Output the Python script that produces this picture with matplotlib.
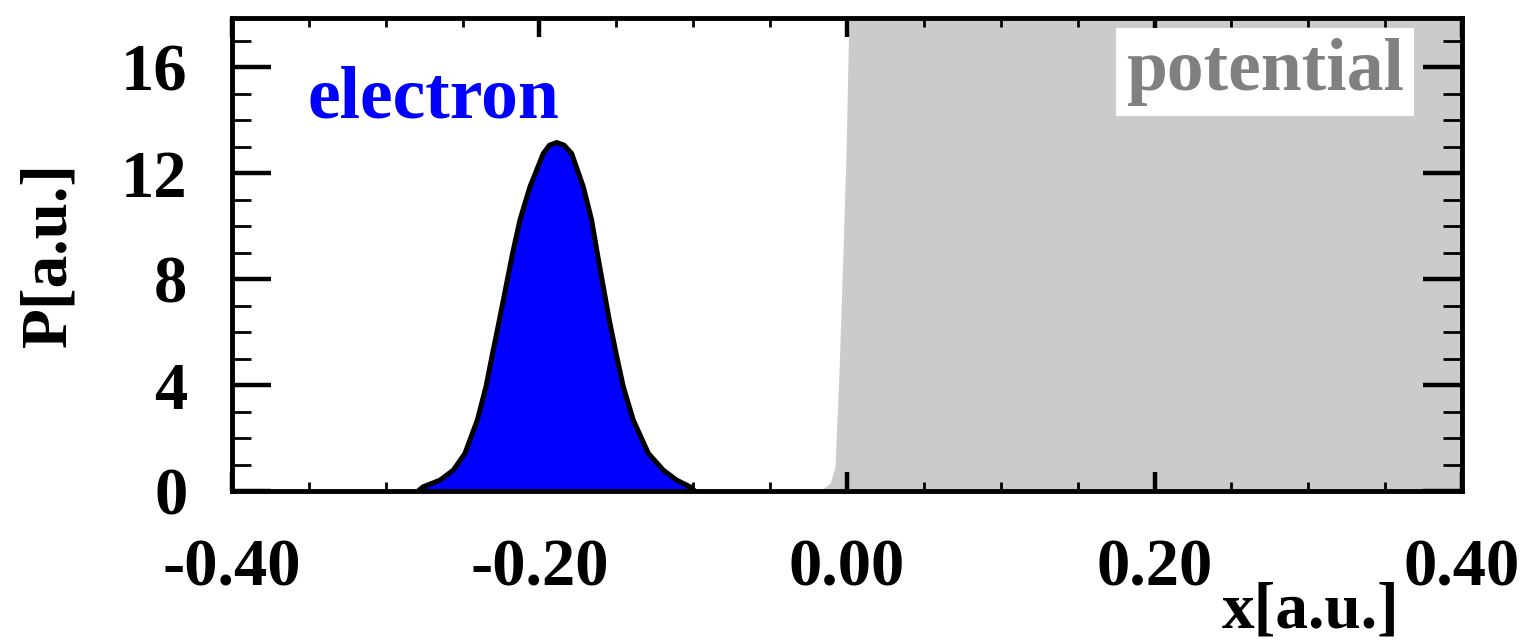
import numpy as np
import matplotlib.pyplot as plt
from matplotlib.ticker import MultipleLocator

plt.rcParams['font.family'] = ['Liberation Serif', 'DejaVu Serif']
plt.rcParams['font.weight'] = 'bold'

# electron probability density
x_el = [-0.279, -0.2756, -0.2647, -0.2560, -0.2485, -0.2404, -0.2348, -0.2305,
        -0.2261, -0.2218, -0.2175, -0.2127, -0.2062, -0.1975, -0.1935,
        -0.1888, -0.1840, -0.1791, -0.1715, -0.1661, -0.1624, -0.1585,
        -0.1546, -0.1502, -0.1455, -0.1390, -0.1292, -0.1195, -0.1108,
        -0.1021, -0.099]
p_el = [0.0, 0.16, 0.41, 0.79, 1.42, 2.68, 3.94, 5.20,
        6.45, 7.71, 8.97, 10.23, 11.48, 12.74, 13.05,
        13.15, 13.05, 12.74, 11.48, 10.23, 8.97, 7.71,
        6.45, 5.20, 3.94, 2.68, 1.42, 0.79, 0.41,
        0.16, 0.0]

# potential barrier
x_pot = [-0.0176, -0.0110, -0.0078, -0.0051, -0.0028, -0.0007, 0.0008, 0.0026, 0.40]
v_pot = [0.0, 0.3, 0.9, 4.7, 8.7, 12.7, 16.7, 20.0, 20.0]

xticks = [-0.40, -0.20, 0.00, 0.20, 0.40]
yticks = [0, 4, 8, 12, 16]

fig = plt.figure(figsize=(15.31, 6.4), dpi=100)
ax = fig.add_axes([0.1515, 0.2328, 0.955 - 0.1515, 0.9719 - 0.2328])

ax.fill_between(x_pot, 0, v_pot, color='#cbcbcb', lw=0, zorder=1)
ax.fill_between(x_el, 0, p_el, color='#0000ff', lw=0, zorder=2)
ax.plot(x_el, p_el, color='black', lw=3.6, zorder=3, solid_joinstyle='round')

ax.set_xlim(-0.40, 0.40)
ax.set_ylim(0, 17.85)
ax.set_xticks(xticks)
ax.set_xticklabels(['%.2f' % v for v in xticks])
ax.set_yticks(yticks)
ax.xaxis.set_minor_locator(MultipleLocator(0.05))
ax.yaxis.set_minor_locator(MultipleLocator(1))

ax.tick_params(axis='both', which='both', direction='in', top=True, right=True,
               labelsize=48, zorder=5)
ax.tick_params(axis='x', which='major', length=14, width=3.2, pad=34)
ax.tick_params(axis='x', which='minor', length=6.5, width=2)
ax.tick_params(axis='y', which='major', length=28, width=3.2, pad=32)
ax.tick_params(axis='y', which='minor', length=14, width=2)
for lab in ax.get_xticklabels() + ax.get_yticklabels():
    lab.set_fontweight('bold')
for s in ax.spines.values():
    s.set_linewidth(3.5)
    s.set_zorder(6)

ax.text(-0.351, 14.1, 'electron', color='#0000ff', fontsize=53,
        fontweight='bold', zorder=7)
ax.text(0.1815, 15.13, 'potential', color='#808080', fontsize=53,
        fontweight='bold', zorder=7,
        bbox=dict(boxstyle='square,pad=0.14', fc='white', ec='none'))

fig.text(0.032, 0.6016, 'P[a.u.]', rotation=90, fontsize=47,
         fontweight='bold', ha='center', va='center')
fig.text(0.856, 0.0203, 'x[a.u.]', fontsize=47, fontweight='bold',
         ha='center', va='baseline')

fig.savefig('out.png', dpi=100)
